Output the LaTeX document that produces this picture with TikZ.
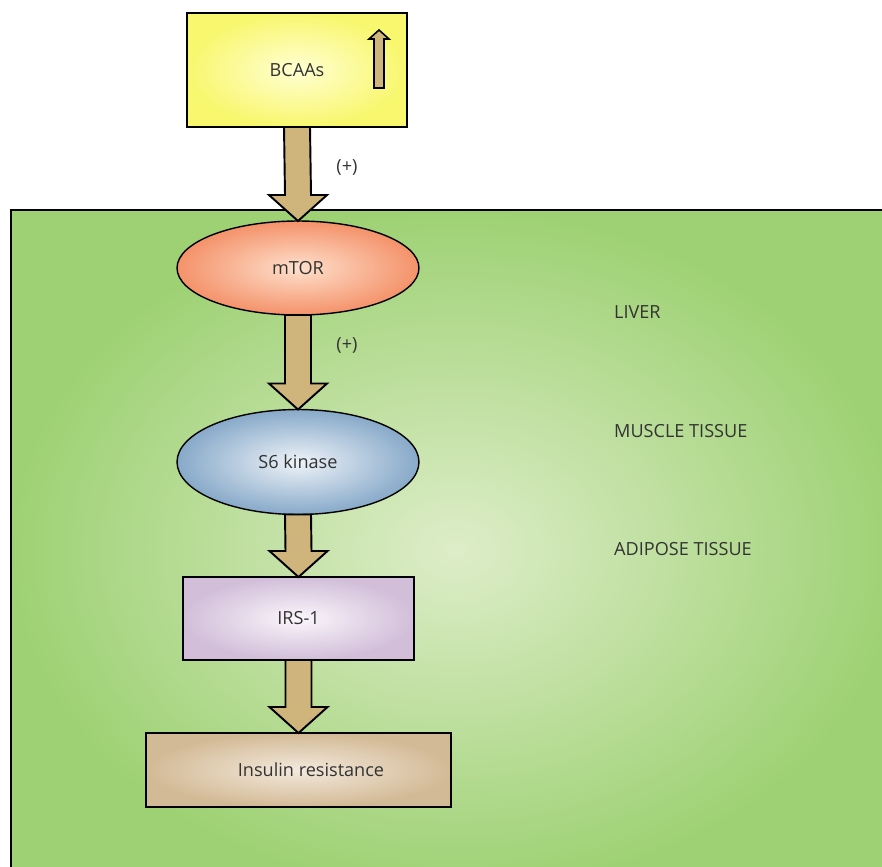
\documentclass[tikz,border=0pt]{standalone}
\usepackage{fontspec}
\setmainfont{Open Sans}
\usetikzlibrary{calc, positioning, shapes.geometric}

\definecolor{txtgrey}{HTML}{333333}
\definecolor{arrtan}{HTML}{CFB57B}

% fat block arrow from the bottom of one node to the top of the next
\newcommand{\fatarrow}[2]{%
  \draw[fatarrow] ($(#1.south)+(-13,0)$) -- ($(#2.north)+(-13,-26)$)
    -- ($(#2.north)+(-29,-26)$) -- (#2.north) -- ($(#2.north)+(29,-26)$)
    -- ($(#2.north)+(13,-26)$) -- ($(#1.south)+(13,0)$) -- cycle;}

\begin{document}
\begin{tikzpicture}[
    x=0.02cm, y=-0.02cm,
    every node/.style={font=\fontsize{10.3}{12}\selectfont, text=txtgrey},
    boxnode/.style={rectangle, draw=black, line width=0.8pt, inner sep=0pt, outer sep=0pt},
    ellnode/.style={ellipse, draw=black, line width=0.8pt, inner sep=0pt, outer sep=0pt},
    fatarrow/.style={draw=black, line width=1.1pt, fill=arrtan, line join=miter},
    tissue/.style={anchor=west}]

    \clip (0,0) rectangle (882,866);

    % tissue background
    \draw[line width=1pt, inner color={rgb,255:red,221;green,237;blue,200},
        outer color={rgb,255:red,158;green,209;blue,116}] (11,210) rectangle (900,890);

    % pathway
    \node[boxnode, minimum width=4.4cm, minimum height=2.28cm,
        inner color={rgb,255:red,255;green,255;blue,210}, outer color={rgb,255:red,248;green,247;blue,110}]
        (bcaa) at (297,70) {BCAAs};
    \node[ellnode, minimum width=4.84cm, minimum height=1.88cm,
        inner color={rgb,255:red,254;green,224;blue,204}, outer color={rgb,255:red,244;green,146;blue,106}]
        (mtor) at (298,268) {mTOR};
    \node[ellnode, minimum width=4.84cm, minimum height=2.1cm,
        inner color={rgb,255:red,238;green,243;blue,248}, outer color={rgb,255:red,135;green,169;blue,201}]
        (s6k) at (298,462) {S6 kinase};
    \node[boxnode, minimum width=4.62cm, minimum height=1.66cm,
        inner color={rgb,255:red,250;green,246;blue,251}, outer color={rgb,255:red,210;green,190;blue,217}]
        (irs) at (298.5,618.5) {IRS-1};
    \node[boxnode, minimum width=6.1cm, minimum height=1.48cm,
        inner color={rgb,255:red,243;green,233;blue,220}, outer color={rgb,255:red,211;green,186;blue,150}]
        (insres) at (298.5,770) {\hspace*{0.5cm}Insulin resistance};

    % small up arrow inside BCAAs
    \draw[fatarrow, line width=0.9pt] (374,88) -- (374,39) -- (369,39) -- (379,30)
        -- (389,39) -- (384,39) -- (384,88) -- cycle;

    \fatarrow{bcaa}{mtor}
    \fatarrow{mtor}{s6k}
    \fatarrow{s6k}{irs}
    \fatarrow{irs}{insres}

    \node (plus1) at (347,167) {(+)};
    \node (plus2) at (347,345) {(+)};

    % tissues
    \node[tissue] (liver) at (608,312) {LIVER};
    \node[tissue] (muscle) at (608,431) {MUSCLE TISSUE};
    \node[tissue] (adipose) at (608,549) {ADIPOSE TISSUE};
\end{tikzpicture}
\end{document}
